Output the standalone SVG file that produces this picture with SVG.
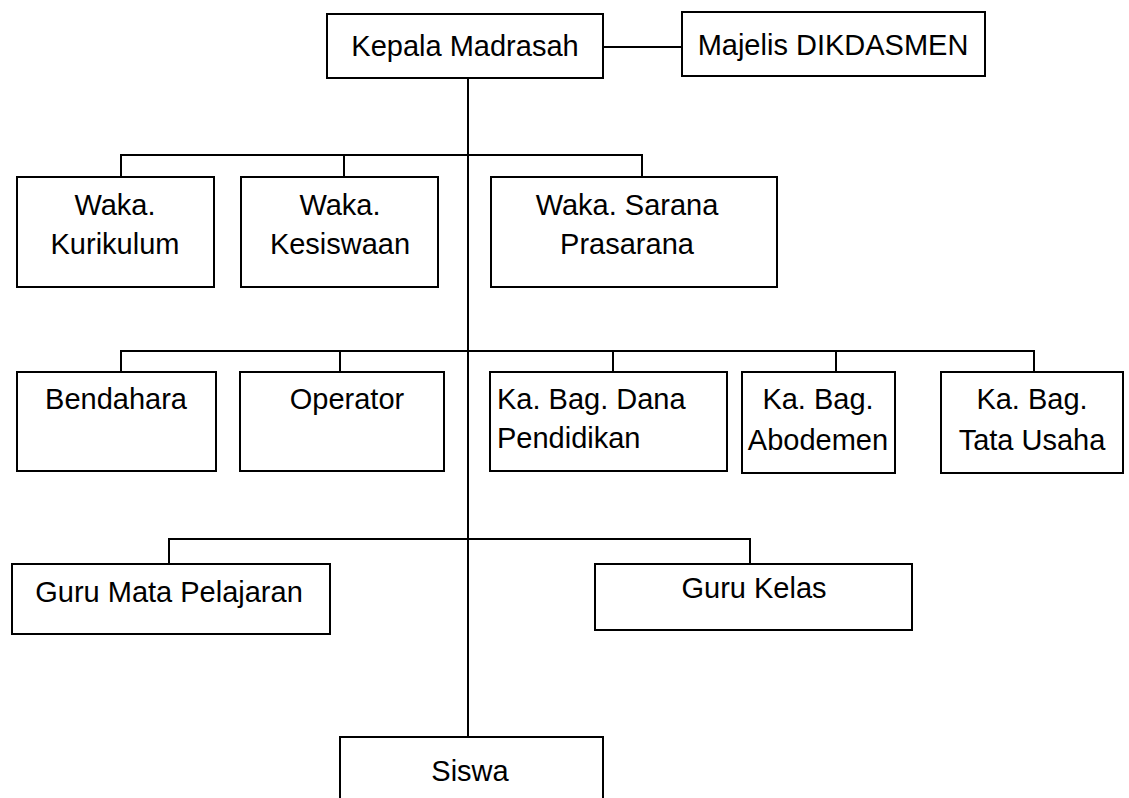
<svg xmlns="http://www.w3.org/2000/svg" width="1129" height="798" viewBox="0 0 1129 798">
<style>
rect{fill:#fff;stroke:#000;stroke-width:2}
line,path{stroke:#000;stroke-width:2;fill:none}
text{font-family:"Liberation Sans",Arial,sans-serif;font-size:29px;fill:#000;text-anchor:middle}
.l{text-anchor:start}
</style>
<rect width="1129" height="798" style="fill:#fff;stroke:none"/>
<g id="connectors">
<line x1="468" y1="78" x2="468" y2="737"/>
<line x1="603" y1="47" x2="682" y2="47"/>
<path d="M121 177V155H642V177M344 155V177"/>
<path d="M121 372V351H1034V372M340 351V372M613 351V372M836 351V372"/>
<path d="M169 564V539H750V564"/>
</g>
<g id="kepala"><rect x="327" y="14" width="276" height="64"/><text x="465" y="56">Kepala Madrasah</text></g>
<g id="majelis"><rect x="682" y="12" width="303" height="64"/><text x="833" y="55">Majelis DIKDASMEN</text></g>
<g id="waka-kurikulum"><rect x="17" y="177" width="197" height="110"/><text x="115" y="215">Waka.</text><text x="115" y="254">Kurikulum</text></g>
<g id="waka-kesiswaan"><rect x="241" y="177" width="197" height="110"/><text x="340" y="215">Waka.</text><text x="340" y="254">Kesiswaan</text></g>
<g id="waka-sarana"><rect x="491" y="177" width="286" height="110"/><text x="627" y="215">Waka. Sarana</text><text x="627" y="254">Prasarana</text></g>
<g id="bendahara"><rect x="17" y="372" width="199" height="99"/><text x="116" y="409">Bendahara</text></g>
<g id="operator"><rect x="240" y="372" width="204" height="99"/><text x="347" y="409">Operator</text></g>
<g id="dana"><rect x="490" y="372" width="237" height="99"/><text class="l" x="497" y="409">Ka. Bag. Dana</text><text class="l" x="497" y="448">Pendidikan</text></g>
<g id="abodemen"><rect x="742" y="372" width="153" height="101"/><text x="818" y="409">Ka. Bag.</text><text x="818" y="450">Abodemen</text></g>
<g id="tata-usaha"><rect x="941" y="372" width="182" height="101"/><text x="1032" y="409">Ka. Bag.</text><text x="1032" y="450">Tata Usaha</text></g>
<g id="guru-mapel"><rect x="12" y="564" width="318" height="70"/><text x="169" y="602">Guru Mata Pelajaran</text></g>
<g id="guru-kelas"><rect x="595" y="564" width="317" height="66"/><text x="754" y="598">Guru Kelas</text></g>
<g id="siswa"><rect x="340" y="737" width="263" height="70"/><text x="470" y="781">Siswa</text></g>
</svg>
